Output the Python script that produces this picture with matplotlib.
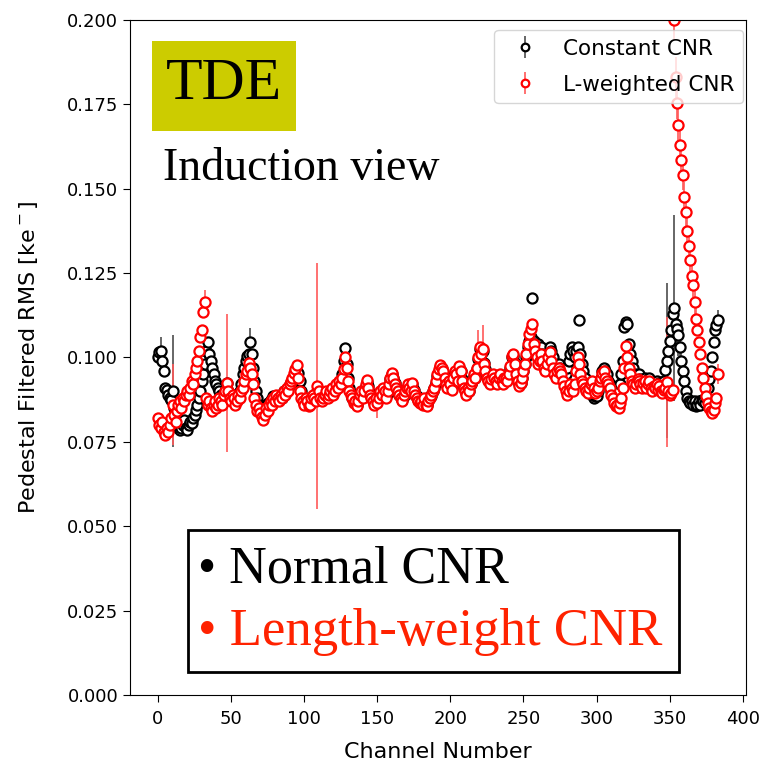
import matplotlib
matplotlib.use("Agg")
import matplotlib.pyplot as plt
from matplotlib.patches import Rectangle
import numpy as np

# ---- data (values in units of 1e-3 ke-) ----
red_vals = [
    82, 80, 79, 81, 78, 77, 79, 78, 80, 82,
    86, 83, 81, 84, 86, 87, 85, 88, 87, 89,
    90, 89, 91, 93, 92, 95, 97, 99, 102, 106,
    108, 113.5, 116.5, 88, 86, 87, 85, 84, 86, 87,
    85, 86, 88, 87, 86, 89, 90, 92.5, 90, 88,
    87, 89, 88, 86, 87, 89, 88, 90, 91, 93,
    95, 96, 98.5, 97, 95, 92, 88, 86, 84, 85,
    83.5, 82.5, 81.5, 83, 85, 84, 86, 87, 86, 88,
    87, 89, 88, 87, 89, 88, 90, 89, 91, 90,
    92, 93, 94, 95.5, 96.5, 97.8, 94, 90, 88, 87,
    86, 88, 87, 85.5, 86, 88, 89, 88, 87, 91.5,
    90, 88, 87, 88, 89, 90, 88, 89, 90, 91,
    89, 90, 92, 91, 93, 92, 94, 96.5, 100, 97,
    93, 90, 89, 88, 86.5, 87, 85.5, 87, 89, 90,
    88, 90, 92, 93.3, 91, 89, 88, 87, 86, 88,
    86.6, 88, 90, 89, 91, 90, 88, 90, 92, 94,
    95.3, 94, 92, 91, 90, 89, 88, 87, 89, 90,
    91, 92, 91, 90, 92.4, 90, 89, 88, 87, 86.5,
    87, 86, 88, 86, 85.5, 87, 88, 89, 90, 91,
    93, 95, 96.5, 97.8, 97, 96, 94, 92, 91, 93,
    92, 90.5, 94, 96, 95, 93, 97.5, 96, 93, 91,
    90, 89, 91, 90, 92, 93, 95, 94, 97, 100,
    103, 101, 102.5, 98, 96, 94, 93, 92, 93.5, 95,
    94, 93, 92, 94, 95, 93, 92, 94, 94, 93,
    95, 97.5, 100.5, 101, 98, 95, 93, 91.5, 92.5, 94,
    96, 98, 101, 104, 107, 108.5, 110, 104, 102, 100,
    98, 99, 101, 99, 97, 96, 98, 100, 101.5, 99,
    97, 95, 94, 96, 97, 96, 95, 93, 91.5, 90,
    89, 90, 92, 91, 90, 92, 96, 100, 98, 95,
    93, 92, 91, 90, 89.5, 91, 92, 93, 91, 89.5,
    90, 91, 93, 94, 95.5, 96, 94, 93, 92, 91,
    89, 88, 86.5, 85.5, 86, 85, 86.5, 88, 91, 97,
    103.5, 100, 97, 95, 93, 92, 91, 92, 93.5, 93,
    92, 91, 92.5, 93, 91, 92, 93, 91, 90, 91.5,
    91, 92, 90.5, 91.5, 90, 89.5, 90.5, 91, 92.8, 90,
    89, 89.5, 90.5, 200, 183, 175.5, 169, 163, 158.5, 154,
    147.5, 143, 137.5, 133, 129, 124, 121.5, 116.5, 111.5, 108,
    104.5, 101, 97, 94, 91, 88.5, 86.5, 85, 84, 83.6,
    84.5, 86.5, 88, 95,
]

black_vals = [
    100, 101.5, 102, 99, 96, 91, 90.5, 89, 88, 87.4,
    90, 85, 82, 80, 79, 78.5, 79, 80, 81.5, 79,
    78.5, 80, 81, 80.5, 82, 83, 84.5, 86, 88, 90,
    93, 95, 98, 102, 104.5, 101, 99, 97, 95, 93,
    92, 91, 90, 89, 88.5, 89, 90, 92.5, 90, 88,
    87.5, 89, 88.5, 87, 88, 89, 90, 92, 95, 97,
    99, 100.5, 101, 104.7, 101, 97, 93, 90, 88, 86,
    85.5, 84.5, 84, 85.5, 86, 86.5, 86, 87.5, 87, 88.5,
    88, 88.5, 87.5, 88, 89, 88, 90, 89.5, 90.5, 91,
    92, 92.5, 93, 94, 94.5, 95, 95.5, 93, 90, 88,
    86.5, 87.5, 87, 86, 86.5, 87.5, 88.5, 88, 87.5, 90,
    89.5, 88.5, 87.5, 88, 88.5, 89.5, 88.5, 89, 89.5, 90.5,
    89.5, 90.5, 91.5, 92, 92.5, 93, 95, 99, 102.7, 98,
    94, 91, 89.5, 88, 87, 87.5, 86, 87.5, 88.5, 89.5,
    88.5, 89.5, 91.5, 92.8, 91.5, 89.5, 88.5, 87.5, 86.5, 87.5,
    87, 88.5, 89.5, 89.5, 90.5, 90, 88.5, 89.5, 91.5, 93.5,
    95, 94, 92.5, 91, 90.5, 89, 88.5, 87.5, 88.5, 90,
    90.5, 91.5, 91, 90.5, 92, 90.5, 89, 88.5, 87.5, 87,
    87.5, 86.5, 87.5, 86.5, 86, 87, 88.5, 88.5, 90, 91,
    92.5, 94.5, 96, 97.3, 96.5, 95.5, 94, 92.5, 91.5, 92.5,
    92, 91, 93.5, 95.5, 95, 93.5, 97, 96, 93.5, 91.5,
    90.5, 89.5, 90.5, 90, 92, 93, 94.5, 94, 96.5, 99.5,
    102.5, 101, 102, 98.5, 96.5, 94.5, 93.5, 92.5, 93, 94.5,
    94, 93.5, 92.5, 93.5, 94.5, 93.5, 92.5, 93.5, 94, 93.5,
    95.5, 97, 100, 100.5, 98.5, 95.5, 93.5, 92, 92.5, 94,
    96, 98, 100, 103, 105, 106, 117.6, 105, 104, 103,
    104, 102.5, 103, 101, 99, 97.5, 99, 101, 103, 102,
    100, 97, 95, 96, 98, 97, 96, 94, 93, 95,
    97, 99, 101, 103, 102, 100, 102, 103, 111, 101,
    98, 96, 94, 92, 91, 92, 91, 89, 88, 88.5,
    88.5, 90, 92, 94, 96, 97, 96, 95, 93, 92,
    90, 89, 88, 87, 88, 90, 92, 95, 99, 109,
    110.5, 110, 104, 101, 99, 97, 95, 93, 94, 95,
    93.5, 92, 93, 94, 92.5, 93, 94, 92, 91, 92,
    92.5, 93, 92, 92.5, 91, 91, 93, 96.3, 99, 102,
    105, 108, 113, 114.7, 110, 108.5, 106.5, 103, 99, 96,
    93, 90, 88, 87, 86.5, 87, 86, 87, 85.5, 86,
    87, 86, 87.5, 87, 86.5, 88, 91, 93.5, 96, 100,
    104.5, 108, 109.5, 111,
]

# error bars (1e-3 units); channels not listed use the base error
base_err = 0.8
red_err_big = {10: 12, 32: 3.5, 47: 20.5, 109: 36.5, 150: 4.6, 219: 8, 222: 7,
               348: 19.3, 353: 6, 354: 6, 355: 5, 356: 5, 357: 5, 358: 5,
               359: 4.5, 360: 4.5, 361: 4.5, 362: 4, 363: 4, 364: 4, 365: 4,
               366: 3.5, 367: 3.5, 368: 3, 383: 3}
black_err_big = {2: 4, 10: 16.5, 63: 4, 348: 23, 353: 27.5, 355: 6, 356: 6,
                 357: 6, 358: 5, 383: 3}

channels = np.arange(len(red_vals))
red = np.array(red_vals) / 1000.0
black = np.array(black_vals) / 1000.0
red_err = np.full(len(red_vals), base_err)
for k, v in red_err_big.items():
    red_err[k] = v
black_err = np.full(len(black_vals), base_err)
for k, v in black_err_big.items():
    black_err[k] = v
red_err /= 1000.0
black_err /= 1000.0

fig = plt.figure(figsize=(7.69, 7.64), dpi=100)
ax = fig.add_axes([0.169, 0.0903, 0.801, 0.8837])

ax.errorbar(channels, black, yerr=black_err, fmt='o', color='black',
            ecolor=(0.3, 0.3, 0.3), elinewidth=1.2, markersize=7.3,
            markerfacecolor='white', markeredgecolor='black', markeredgewidth=1.6,
            label='Constant CNR')
ax.errorbar(channels, red, yerr=red_err, fmt='o', color='red',
            ecolor=(1.0, 0.35, 0.35), elinewidth=1.2, markersize=7.3,
            markerfacecolor='white', markeredgecolor='red', markeredgewidth=1.6,
            label='L-weighted CNR')

ax.set_ylim(0, 0.2)
ax.set_yticks(np.arange(0, 0.2001, 0.025))
ax.set_xticks(np.arange(0, 401, 50))
ax.tick_params(labelsize=13, length=5)
ax.tick_params(axis='x', pad=6)
ax.set_xlabel('Channel Number', fontsize=16, labelpad=10)
ax.set_ylabel(r'Pedestal Filtered RMS [ke$^-$]', fontsize=16, labelpad=19)
ax.legend(loc='upper right', bbox_to_anchor=(0.996, 0.985),
          fontsize=15.5, markerscale=0.75,
          labelspacing=0.75, borderaxespad=0.0, handletextpad=0.8)

serif = ['Liberation Serif', 'DejaVu Serif']

# TDE tag
fig.add_artist(Rectangle((0.1977, 0.8285), 0.1873, 0.1178,
                         transform=fig.transFigure, facecolor='#cccc00',
                         edgecolor='none'))
fig.text(0.291, 0.889, 'TDE', family=serif, fontsize=43,
         ha='center', va='center')
fig.text(0.212, 0.779, 'Induction view', family=serif, fontsize=33,
         ha='left', va='center')

# big legend box
fig.add_artist(Rectangle((0.2445, 0.1204), 0.6385, 0.1859,
                         transform=fig.transFigure, facecolor='white',
                         edgecolor='black', linewidth=2))
fig.text(0.258, 0.255, '\u2022 Normal CNR', family=serif, fontsize=37.5,
         color='black', ha='left', va='center')
fig.text(0.258, 0.173, '\u2022 Length-weight CNR', family=serif, fontsize=38,
         color='#ff2200', ha='left', va='center')

fig.savefig('out.png', dpi=100)
